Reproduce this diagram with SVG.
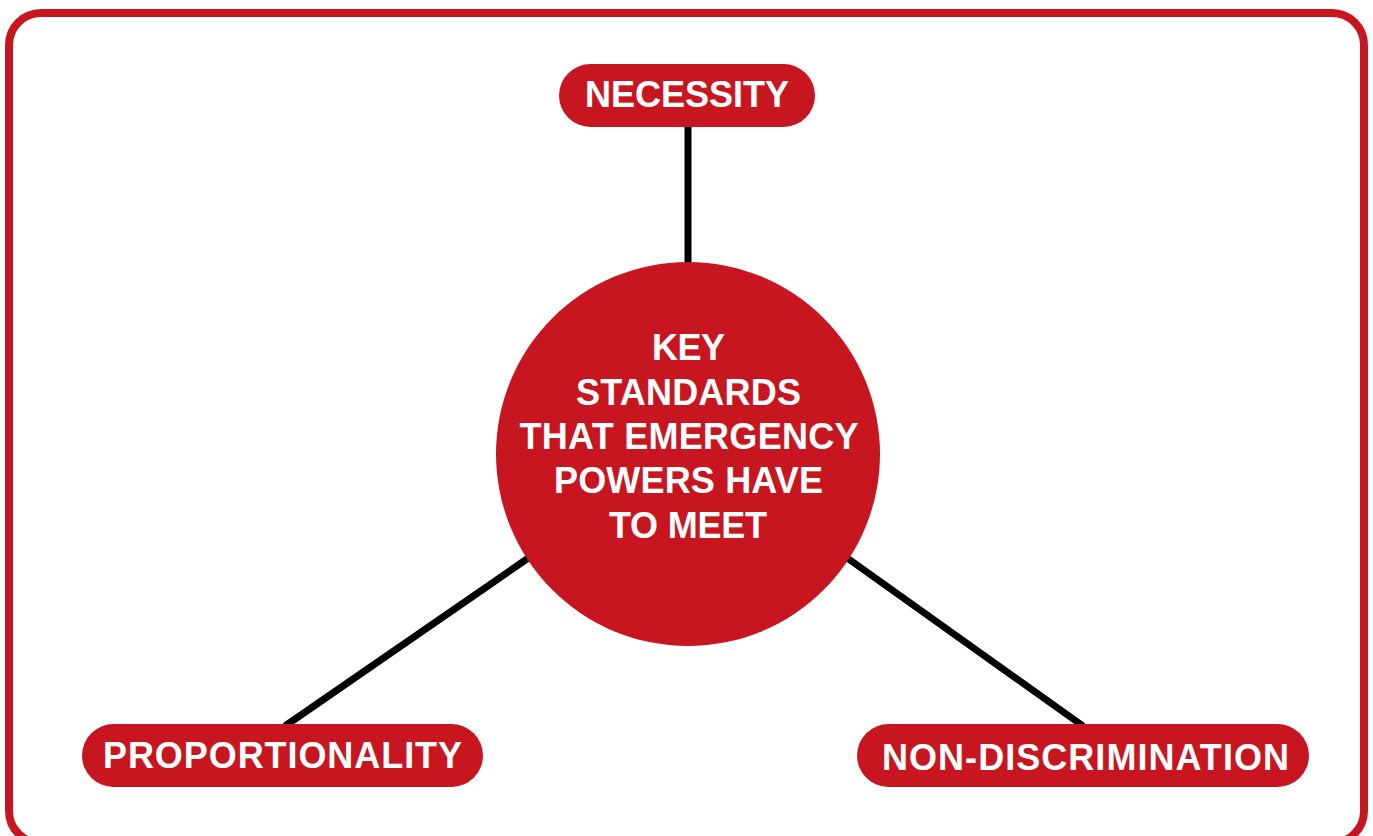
<svg xmlns="http://www.w3.org/2000/svg" width="1373" height="836" viewBox="0 0 1373 836">
<style>
.pill{fill:#C71620}
.lbl{font-family:"Liberation Sans",Arial,sans-serif;font-weight:bold;font-size:36px;fill:#FFFFFF;text-anchor:middle}
.conn{stroke:#000000;stroke-width:7;fill:none}
</style>
<rect x="9" y="13" width="1355" height="830" rx="32" ry="32" fill="#FFFFFF" stroke="#C71620" stroke-width="8"/>
<g id="connectors">
<line class="conn" x1="688" y1="120" x2="688" y2="280"/>
<line class="conn" x1="285" y1="726" x2="540" y2="550"/>
<line class="conn" x1="1083" y1="726" x2="836" y2="550"/>
</g>
<g id="center">
<circle cx="688" cy="454" r="192" class="pill"/>
<text class="lbl" x="688.5" y="360" textLength="73" lengthAdjust="spacing">KEY</text>
<text class="lbl" x="688.5" y="405" textLength="225" lengthAdjust="spacing">STANDARDS</text>
<text class="lbl" x="689" y="449" textLength="339" lengthAdjust="spacing">THAT EMERGENCY</text>
<text class="lbl" x="688.5" y="493" textLength="269" lengthAdjust="spacing">POWERS HAVE</text>
<text class="lbl" x="688" y="538" textLength="158" lengthAdjust="spacing">TO MEET</text>
</g>
<g id="necessity">
<rect class="pill" x="559" y="64" width="256" height="63" rx="31.5"/>
<text class="lbl" x="687" y="107" textLength="204" lengthAdjust="spacing">NECESSITY</text>
</g>
<g id="proportionality">
<rect class="pill" x="82" y="724" width="401" height="63" rx="31.5"/>
<text class="lbl" x="282.5" y="768" textLength="359" lengthAdjust="spacing">PROPORTIONALITY</text>
</g>
<g id="nondiscrimination">
<rect class="pill" x="857" y="724" width="452" height="63" rx="31.5"/>
<text class="lbl" x="1085.5" y="770" textLength="407" lengthAdjust="spacing">NON-DISCRIMINATION</text>
</g>
</svg>
